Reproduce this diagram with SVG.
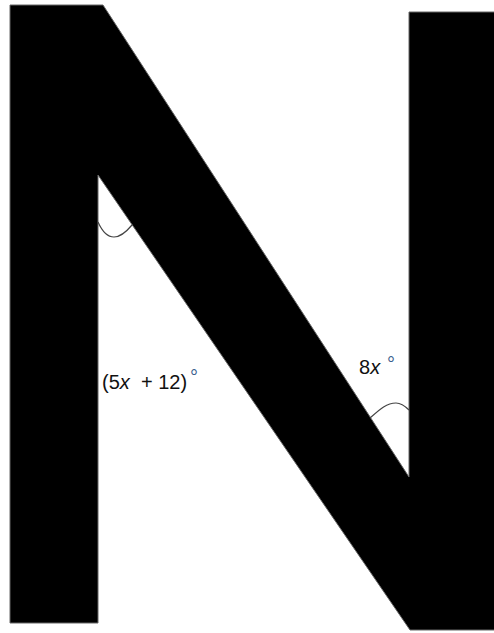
<svg xmlns="http://www.w3.org/2000/svg" width="494" height="633" viewBox="0 0 494 633">
  <style>
    .shape { fill: #000; stroke: #666; stroke-width: 1; }
    .arc { fill: none; stroke: #444; stroke-width: 1.2; }
    .lbl { font-family: "Liberation Sans", Arial, sans-serif; font-size: 20px; fill: #111; }
    .it { font-style: italic; }
    .deg { font-family: "Liberation Sans", Arial, sans-serif; font-size: 20px; fill: #3d5f8f; }
  </style>
  <rect x="0" y="0" width="494" height="633" fill="#fff"/>
  <g id="letter-n">
    <polygon class="shape" points="10,5 103,5 409,477 409,12 500,12 500,630 410,630 98,175 98,623 10,623"/>
  </g>
  <g id="angle-left">
    <path class="arc" d="M98,222 C102,231 107,237 114,237 C121,237 127,231 132,225"/>
    <text class="lbl" x="102" y="389">(5<tspan class="it">x</tspan><tspan x="141">+ 12)</tspan></text>
    <text class="deg" x="190" y="384">°</text>
  </g>
  <g id="angle-right">
    <path class="arc" d="M370,418 C379,410 386,403 396,403 C402,403 406,407 409,410"/>
    <text class="lbl" x="359" y="374">8<tspan class="it">x</tspan></text>
    <text class="deg" x="387" y="371">°</text>
  </g>
</svg>
